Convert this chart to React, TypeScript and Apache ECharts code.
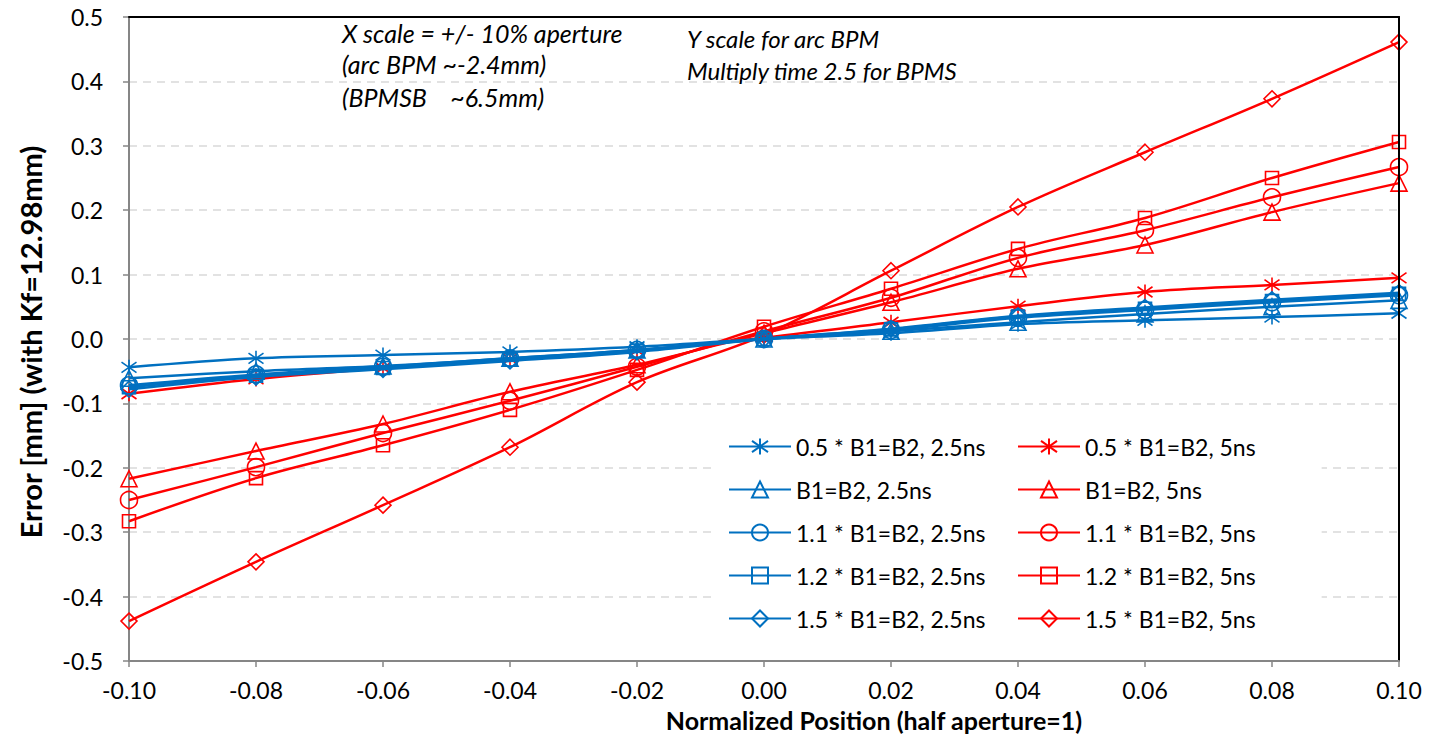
import React, { useEffect, useRef } from 'react';
import * as echarts from 'echarts';

const xValues = [-0.10, -0.08, -0.06, -0.04, -0.02, 0.00, 0.02, 0.04, 0.06, 0.08, 0.10];
const xTicks = ['-0.10', '-0.08', '-0.06', '-0.04', '-0.02', '0.00', '0.02', '0.04', '0.06', '0.08', '0.10'];
const yTicks = ['-0.5', '-0.4', '-0.3', '-0.2', '-0.1', '0.0', '0.1', '0.2', '0.3', '0.4', '0.5'];

// 2.5ns (blue)
const blue05 = [-0.044, -0.030, -0.025, -0.020, -0.012, 0.000, 0.009, 0.023, 0.029, 0.034, 0.040];
const blue10 = [-0.061, -0.050, -0.042, -0.030, -0.017, 0.000, 0.012, 0.026, 0.039, 0.050, 0.060];
const blue11 = [-0.072, -0.055, -0.043, -0.030, -0.017, 0.000, 0.014, 0.033, 0.045, 0.057, 0.068];
const blue12 = [-0.075, -0.057, -0.045, -0.032, -0.018, 0.000, 0.015, 0.035, 0.047, 0.059, 0.070];
const blue15 = [-0.078, -0.059, -0.047, -0.034, -0.020, 0.000, 0.016, 0.036, 0.049, 0.061, 0.072];

// 5ns (red)
const red05 = [-0.085, -0.062, -0.045, -0.031, -0.018, 0.002, 0.026, 0.051, 0.073, 0.084, 0.095];
const red10 = [-0.217, -0.174, -0.132, -0.082, -0.040, 0.009, 0.057, 0.109, 0.146, 0.197, 0.242];
const red11 = [-0.250, -0.199, -0.146, -0.096, -0.043, 0.012, 0.064, 0.126, 0.169, 0.220, 0.267];
const red12 = [-0.283, -0.216, -0.165, -0.110, -0.048, 0.019, 0.078, 0.140, 0.188, 0.250, 0.306];
const red15 = [-0.438, -0.346, -0.258, -0.168, -0.067, 0.006, 0.106, 0.205, 0.290, 0.373, 0.461];

const blueNames = ['0.5 * B1=B2, 2.5ns', 'B1=B2, 2.5ns', '1.1 * B1=B2, 2.5ns', '1.2 * B1=B2, 2.5ns', '1.5 * B1=B2, 2.5ns'];
const redNames = ['0.5 * B1=B2, 5ns', 'B1=B2, 5ns', '1.1 * B1=B2, 5ns', '1.2 * B1=B2, 5ns', '1.5 * B1=B2, 5ns'];

const BLUE = '#0070C0';
const RED = '#FF0000';
const FONT = 'Lato, "Open Sans", sans-serif';

const STAR = 'path://M0,-10L0,10M-8,-7L8,7M-8,7L8,-7';
const symbols = [STAR, 'triangle', 'circle', 'rect', 'diamond'];
const symbolSizes = [15, 16, 17, 13, 16];

function makeSeries(name: string, values: number[], color: string, idx: number, z: number) {
  return {
    name,
    type: 'line',
    data: values.map((v, i) => [xValues[i], v]),
    smooth: 0.35,
    symbol: symbols[idx],
    symbolSize: symbolSizes[idx],
    showAllSymbol: true,
    z,
    lineStyle: { color, width: 2.5 },
    itemStyle: { color: 'rgba(255,255,255,0)', borderColor: color, borderWidth: 1.6 },
    emphasis: { disabled: true },
  };
}

export default function App() {
  const ref = useRef<HTMLDivElement>(null);
  useEffect(() => {
    if (!ref.current) return;
    const chart = echarts.init(ref.current, null, { renderer: 'svg' });
    const blueData = [blue05, blue10, blue11, blue12, blue15];
    const redData = [red05, red10, red11, red12, red15];
    const series: any[] = [];
    redData.forEach((d, i) => series.push(makeSeries(redNames[i], d, RED, i, 2)));
    blueData.forEach((d, i) => series.push(makeSeries(blueNames[i], d, BLUE, i, 3)));

    const legendCommon = {
      orient: 'vertical',
      itemWidth: 62,
      itemHeight: 20,
      itemGap: 20,
      z: 10,
      backgroundColor: '#ffffff',
      textStyle: { fontFamily: FONT, fontSize: 23, lineHeight: 20, color: '#000' },
      selectedMode: false,
    };

    const italic = { fontFamily: FONT, fontStyle: 'italic', fill: '#000', verticalAlign: 'middle' };

    chart.setOption({
      animation: false,
      grid: { left: 129, right: 31, top: 17, bottom: 74, show: false },
      xAxis: [
        {
          type: 'value', min: -0.1, max: 0.1, interval: 0.02,
          axisLine: { onZero: false, lineStyle: { color: '#868686', width: 2 } },
          axisTick: { show: true, length: 6, lineStyle: { color: '#868686', width: 1.5 } },
          splitLine: { show: false },
          axisLabel: {
            margin: 17, fontFamily: FONT, fontSize: 23, color: '#000',
            formatter: (v: number) => {
              const i = Math.round((v + 0.1) / 0.02);
              return xTicks[i] ?? v.toFixed(2);
            },
          },
          z: 5,
        },
        {
          type: 'value', position: 'top', min: -0.1, max: 0.1,
          axisLine: { show: true, onZero: false, lineStyle: { color: '#000', width: 2 } },
          axisTick: { show: false }, axisLabel: { show: false }, splitLine: { show: false },
          z: 5,
        },
      ],
      yAxis: [
        {
          type: 'value', min: -0.5, max: 0.5, interval: 0.1,
          axisLine: { show: true, onZero: false, lineStyle: { color: '#868686', width: 2 } },
          axisTick: { show: true, length: 6, lineStyle: { color: '#868686', width: 1.5 } },
          splitLine: { show: true, lineStyle: { color: '#d9d9d9', width: 1.5, type: [8, 6] } },
          axisLabel: {
            margin: 26, fontFamily: FONT, fontSize: 23, color: '#000',
            formatter: (v: number) => {
              const i = Math.round((v + 0.5) / 0.1);
              return yTicks[i] ?? v.toFixed(1);
            },
          },
          z: 1,
        },
        {
          type: 'value', position: 'right', min: -0.5, max: 0.5,
          axisLine: { show: true, onZero: false, lineStyle: { color: '#000', width: 2 } },
          axisTick: { show: false }, axisLabel: { show: false }, splitLine: { show: false },
          z: 5,
        },
      ],
      legend: [
        { ...legendCommon, data: blueNames, left: 715, top: 423, padding: [12, 20, 14, 13] },
        { ...legendCommon, data: redNames, left: 1004, top: 423, padding: [12, 66, 14, 13] },
      ],
      graphic: [
        {
          type: 'text', x: 30, y: 342, rotation: Math.PI / 2,
          style: {
            text: 'Error [mm] (with Kf=12.98mm)', fontFamily: FONT, fontSize: 29, fontWeight: 'bold',
            fill: '#000', align: 'center', verticalAlign: 'middle',
          },
        },
        {
          type: 'text', x: 874, y: 720,
          style: {
            text: 'Normalized Position (half aperture=1)', fontFamily: FONT, fontSize: 25, fontWeight: 'bold',
            fill: '#000', align: 'center', verticalAlign: 'middle',
          },
        },
        { type: 'text', x: 342, y: 33, z: 10, style: { ...italic, fontSize: 25, text: 'X scale = +/- 10% aperture' } },
        { type: 'text', x: 342, y: 64, z: 10, style: { ...italic, fontSize: 25, text: '(arc BPM ~-2.4mm)' } },
        { type: 'text', x: 342, y: 97, z: 10, style: { ...italic, fontSize: 25, text: '(BPMSB    ~6.5mm)' } },
        { type: 'text', x: 687, y: 38, z: 10, style: { ...italic, fontSize: 24, text: 'Y scale for arc BPM' } },
        { type: 'text', x: 687, y: 70, z: 10, style: { ...italic, fontSize: 24, text: 'Multiply time 2.5 for BPMS' } },
      ],
      series,
    });
    return () => chart.dispose();
  }, []);
  return <div ref={ref} style={{ width: 1430, height: 735, position: 'absolute', left: 0, top: 0 }} />;
}
